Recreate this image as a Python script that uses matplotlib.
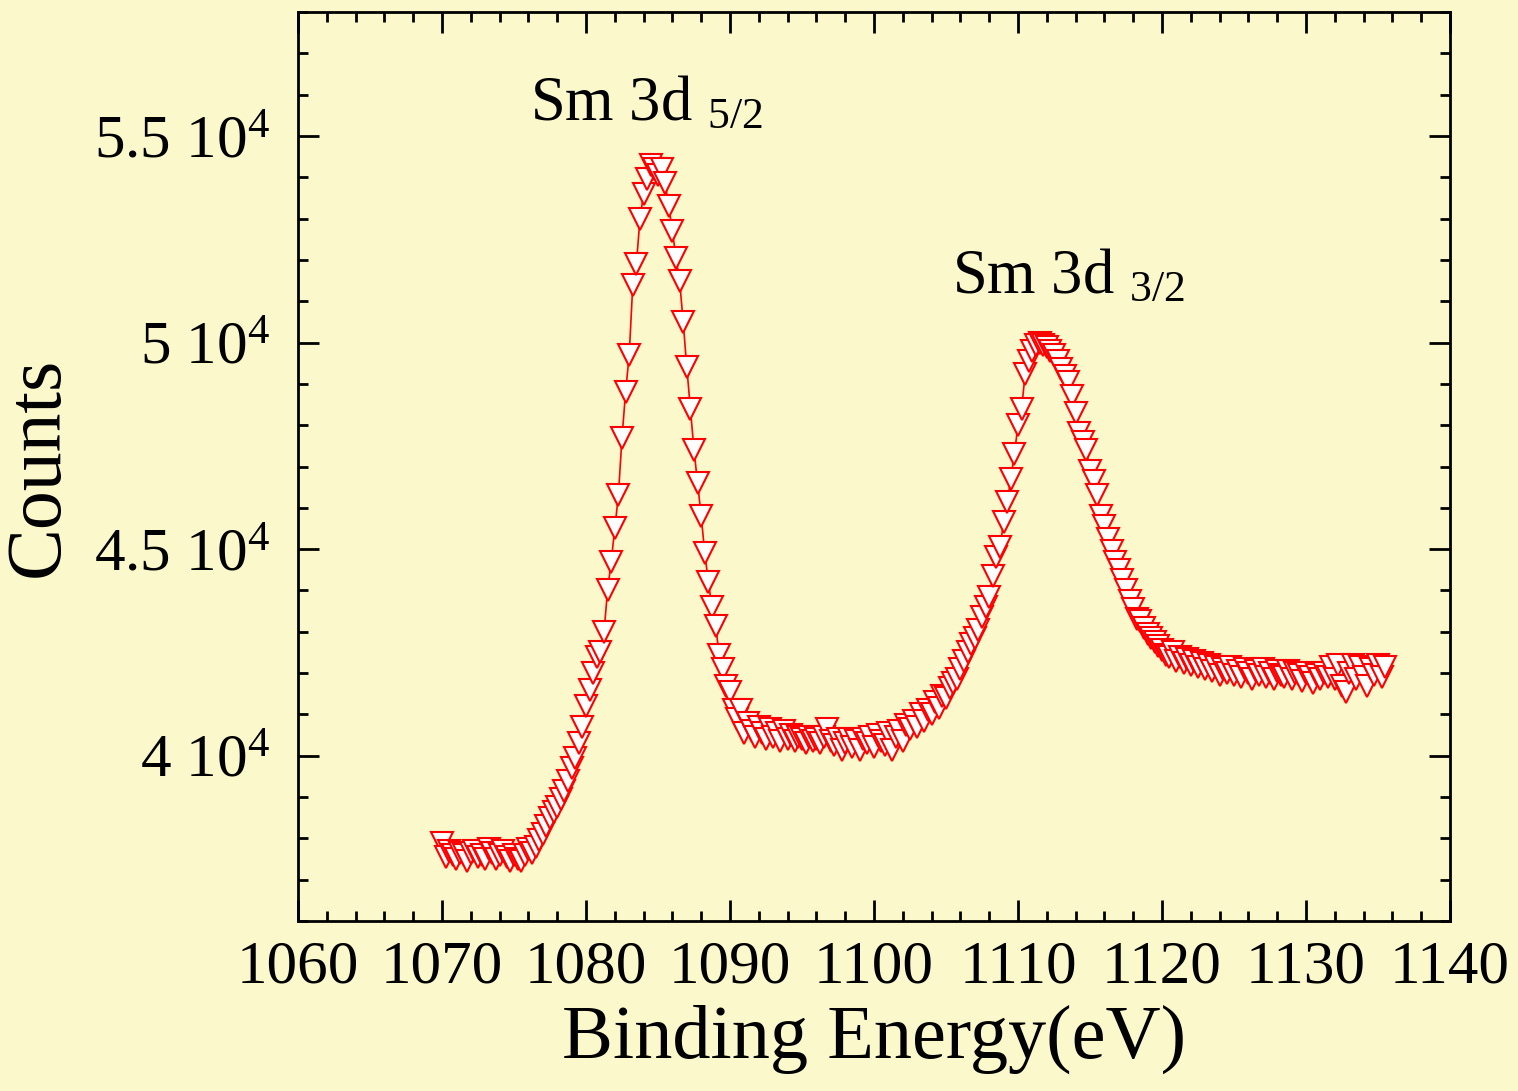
import numpy as np
import matplotlib.pyplot as plt
from matplotlib.ticker import MultipleLocator, FuncFormatter

plt.rcParams['font.family'] = ['Liberation Serif', 'DejaVu Serif']
plt.rcParams['mathtext.fontset'] = 'custom'
plt.rcParams['mathtext.rm'] = 'Liberation Serif'
plt.rcParams['mathtext.it'] = 'Liberation Serif:italic'

BG = '#FBF8CC'

# binding energy grid (eV), 0.25 eV steps
energy = np.arange(1070.0, 1135.51, 0.25)

# counts
counts_start = [37900, 37550, 37700, 37600, 37500, 37650, 37600, 37450, 37650, 37700,
                37550, 37600, 37500, 37750, 37650, 37500, 37600, 37700, 37550, 37450,
                37600, 37500, 37450, 37600, 37750, 37650]
counts_peak1 = [37800, 37950, 38100, 38300, 38500, 38650, 38750, 38950, 39150, 39400,
                39700, 39950, 40300, 40700, 41200, 41600, 42000, 42400, 42500, 43000,
                44000, 44700, 45500, 46300, 47700, 48800, 49700, 51400, 51900, 53000,
                53600, 53950, 54300, 54200, 54050, 54200, 53850, 53300, 52700, 52050,
                51500, 50500, 49400, 48400, 47400, 46600, 45800, 44900, 44200, 43600,
                43150, 42450, 42100, 41700, 41550, 41100]
counts_valley = [40900, 41100, 40550, 40800, 40600, 40450, 40700, 40550, 40400, 40650,
                 40450, 40550, 40350, 40600, 40400, 40500, 40350, 40450, 40400, 40300,
                 40450, 40350, 40400, 40300, 40450, 40650, 40350, 40250, 40400, 40150,
                 40300, 40400, 40200, 40350, 40150, 40400, 40300, 40450, 40200, 40500,
                 40350, 40250, 40550, 40150, 40450, 40600, 40350, 40750, 40650, 40850,
                 40700, 41000, 40850, 41100, 41000, 41300, 41150, 41450, 41400, 41650]
counts_peak2 = [41750, 41850, 42100, 42300, 42500, 42700, 42850, 43050, 43350, 43600,
                43850, 44350, 44800, 45050, 45650, 46150, 46700, 47300, 48000, 48400,
                49250, 49550, 49800, 49950, 50000, 49950, 49900, 49800, 49700, 49550,
                49350, 49200, 49050, 48700, 48300, 47800, 47600, 47400, 46900, 46650,
                46300, 45800, 45550, 45250, 44950, 44700, 44500, 44250, 44000, 43750,
                43550, 43300, 43250, 43100, 42950, 42850, 42750, 42650, 42550, 42450]
counts_tail = [42400, 42500, 42300, 42400, 42250, 42350, 42200, 42300, 42150, 42250,
               42100, 42200, 42050, 42150, 41950, 42100, 42000, 42150, 41950, 42050,
               41900, 42100, 42000, 41850, 42050, 41950, 42100, 41900, 42000, 41850,
               42050, 41950, 41900, 42050, 41850, 42000, 41950, 41800, 42000, 41900,
               41750, 41950, 41850, 42000, 41900, 42150, 41850, 42200, 41700, 41550,
               42000, 42200, 41850, 42150, 41900, 41700, 42100, 41950, 42200, 41900,
               42150]

counts = np.array(counts_start + counts_peak1 + counts_valley + counts_peak2 + counts_tail)
n = min(len(energy), len(counts))
energy = energy[:n]
counts = counts[:n]

fig = plt.figure(figsize=(15.18, 10.91), dpi=100, facecolor=BG)
ax = fig.add_axes([0.1963, 0.1558, 0.7589, 0.8332], facecolor=BG)

ax.plot(energy, counts, color='#FF0000', linewidth=1.2, marker='v', markersize=15.5,
        markerfacecolor='white', markeredgecolor='#FF0000', markeredgewidth=1.5)

ax.set_xlim(1060, 1140)
ax.set_ylim(36000, 58000)
ax.xaxis.set_major_locator(MultipleLocator(10))
ax.xaxis.set_minor_locator(MultipleLocator(2))
ax.yaxis.set_major_locator(MultipleLocator(5000))
ax.yaxis.set_minor_locator(MultipleLocator(1000))
ax.yaxis.set_major_formatter(FuncFormatter(lambda v, p: f'{v / 1e4:g} 10$^{{\\mathrm{{4}}}}$'))

ax.tick_params(which='both', direction='in', top=True, right=True, width=2,
               labelsize=44, colors='black')
ax.tick_params(which='major', length=15)
ax.tick_params(which='minor', length=7.2)
ax.tick_params(axis='x', pad=14)
ax.tick_params(axis='y', pad=20)
for s in ax.spines.values():
    s.set_linewidth(2)

ax.set_xlabel('Binding Energy(eV)', fontsize=55, labelpad=6)
ax.set_ylabel('Counts', fontsize=56, labelpad=14)

ax.text(1076.1, 55374, r'Sm 3d $_{\mathrm{5/2}}$', fontsize=45, ha='left', va='baseline')
ax.text(1105.4, 51185, r'Sm 3d $_{\mathrm{3/2}}$', fontsize=45, ha='left', va='baseline')

fig.savefig('out.png', dpi=100, facecolor=BG)
